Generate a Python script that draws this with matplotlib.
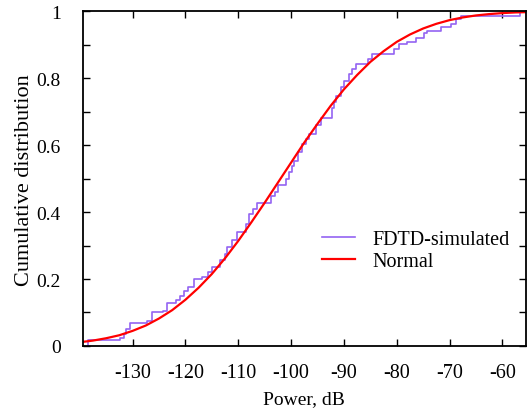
import matplotlib
matplotlib.use("Agg")
import matplotlib.pyplot as plt
from matplotlib.ticker import MultipleLocator

plt.rcParams['font.family'] = ['Liberation Serif', 'DejaVu Serif']
plt.rcParams['axes.unicode_minus'] = False

# FDTD-simulated empirical CDF: step positions (dB) and level after each step
sim_power = [-138.5, -138.5, -132.3, -131.7, -131.2, -130.4, -127.2, -126.4, -124.2, -123.4,
             -121.7, -121.0, -120.3, -119.6, -118.3, -116.8, -115.8, -114.9, -113.4, -112.6,
             -112.1, -111.1, -110.2, -108.5, -107.9, -107.2, -106.4, -103.8, -103.0, -102.5,
             -100.9, -100.4, -99.9, -99.4, -98.7, -97.9, -97.2, -96.6, -95.3, -94.3,
             -92.3, -91.9, -91.5, -90.6, -90.0, -89.1, -88.5, -87.7, -85.5, -84.7,
             -80.6, -79.6, -78.1, -76.4, -74.9, -74.3, -71.7, -69.8, -68.7, -67.9,
             -56.6, -55.6]
sim_cdf = [0.0, 0.018, 0.024, 0.036, 0.05, 0.069, 0.075, 0.10, 0.105, 0.129,
           0.138, 0.15, 0.165, 0.177, 0.20, 0.207, 0.22, 0.237, 0.257, 0.275,
           0.296, 0.317, 0.341, 0.365, 0.395, 0.41, 0.428, 0.449, 0.46, 0.482,
           0.50, 0.52, 0.537, 0.554, 0.58, 0.605, 0.62, 0.635, 0.659, 0.68,
           0.71, 0.728, 0.746, 0.775, 0.793, 0.814, 0.829, 0.844, 0.859, 0.874,
           0.889, 0.904, 0.91, 0.922, 0.934, 0.94, 0.952, 0.961, 0.976, 0.985,
           1.0, 1.0]

# Normal fit curve
norm_power = [-140, -137.5, -135, -132.5, -130, -127.5, -125, -122.5, -120, -117.5,
              -115, -112.5, -110, -107.5, -105, -102.5, -100, -97.5, -95, -92.5,
              -90, -87.5, -85, -82.5, -80, -77.5, -75, -72.5, -70, -67.5,
              -65, -62.5, -60, -57.5, -55]
norm_cdf = [0.011, 0.016, 0.023, 0.032, 0.045, 0.061, 0.082, 0.107, 0.138, 0.174,
            0.215, 0.262, 0.314, 0.370, 0.428, 0.488, 0.548, 0.608, 0.664, 0.718,
            0.767, 0.810, 0.849, 0.881, 0.909, 0.931, 0.949, 0.963, 0.974, 0.982,
            0.988, 0.992, 0.995, 0.997, 0.998]

xticks = [-130, -120, -110, -100, -90, -80, -70, -60]
yticks = [0, 0.2, 0.4, 0.6, 0.8, 1]
ylabels = ['0', '0.2', '0.4', '0.6', '0.8', '1']

fig = plt.figure(figsize=(5.28, 4.14), dpi=100)
ax = fig.add_axes([0.157, 0.162, 0.8386, 0.808])

ax.step(sim_power, sim_cdf, where='post', color='#9464f2', lw=1.2, label='FDTD-simulated')
ax.plot(norm_power, norm_cdf, color='#ff0000', lw=1.6, label='Normal')

ax.set_xlim(-139.4, -55.6)
ax.set_ylim(0, 1.0)
ax.set_xticks(xticks)
ax.set_xticklabels([str(v) for v in xticks])
ax.set_yticks(yticks)
ax.set_yticklabels(ylabels)
ax.yaxis.set_minor_locator(MultipleLocator(0.1))

ax.tick_params(which='both', direction='in', top=True, right=True, labelsize=14,
               length=5, width=1)
ax.tick_params(axis='x', labelsize=14.5, pad=12)
ax.tick_params(axis='y', pad=16)
for s in ax.spines.values():
    s.set_linewidth(1.3)

ax.set_xlabel('Power, dB', fontsize=14, labelpad=6)
ax.set_ylabel('Cumulative distribution', fontsize=16, labelpad=2)

leg = ax.legend(loc='center left', bbox_to_anchor=(0.54, 0.286), frameon=False,
                fontsize=14.5, handlelength=1.65, handletextpad=0.85, labelspacing=0.15,
                borderpad=0, borderaxespad=0)

fig.savefig('out.png', dpi=100)
